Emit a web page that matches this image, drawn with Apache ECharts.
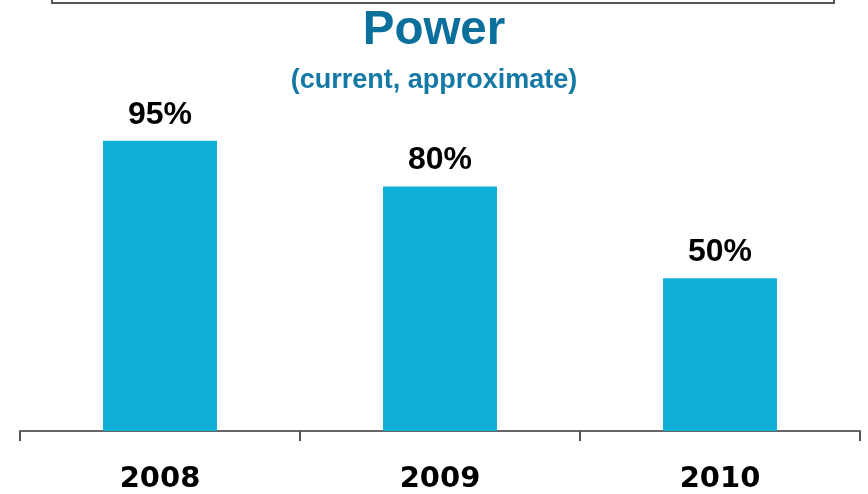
<!DOCTYPE html>
<html><head><meta charset="utf-8">
<script src="https://cdn.jsdelivr.net/npm/echarts@6/dist/echarts.min.js"></script>
<style>html,body{margin:0;padding:0;background:#fff}#c{width:868px;height:494px}</style>
</head><body><div id="c"></div>
<script>
const categories = ['2008', '2009', '2010'];
const values = [95, 80, 50];
const titleText = 'Power';
const subtitleText = '(current, approximate)';

const chart = echarts.init(document.getElementById('c'));
chart.setOption({
  animation: false,
  backgroundColor: '#ffffff',
  title: [{
    text: titleText,
    left: 'center',
    top: 2,
    textStyle: {fontFamily: 'Liberation Sans', fontWeight: 'bold', fontSize: 47.5, color: '#0b6f9b'}
  }, {
    text: subtitleText,
    left: 'center',
    top: 62,
    textStyle: {fontFamily: 'Liberation Sans', fontWeight: 'bold', fontSize: 27, color: '#1579a6'}
  }],
  graphic: [{
    type: 'polyline',
    shape: {points: [[52, -5], [52, 3], [834, 3], [834, -5]]},
    style: {stroke: '#555555', lineWidth: 2, fill: null}
  }],
  grid: {left: 20, right: 8, top: 125.5, bottom: 61, containLabel: false},
  xAxis: {
    type: 'category',
    data: categories,
    axisLine: {lineStyle: {color: '#666666', width: 2}},
    axisTick: {show: true, length: 10, inside: false, lineStyle: {color: '#555555', width: 2}},
    axisLabel: {margin: 34, fontFamily: 'DejaVu Sans', fontWeight: 'bold', fontSize: 29, color: '#000000'}
  },
  yAxis: {type: 'value', min: 0, max: 100, show: false, splitLine: {show: false}},
  series: [{
    type: 'bar',
    data: values,
    barWidth: '40.7%',
    itemStyle: {color: '#10b0d6'},
    label: {
      show: true, position: 'top', distance: 10,
      formatter: p => p.value + '%',
      fontFamily: 'Liberation Sans', fontWeight: 'bold', fontSize: 32, color: '#000000'
    }
  }]
});
</script></body></html>
